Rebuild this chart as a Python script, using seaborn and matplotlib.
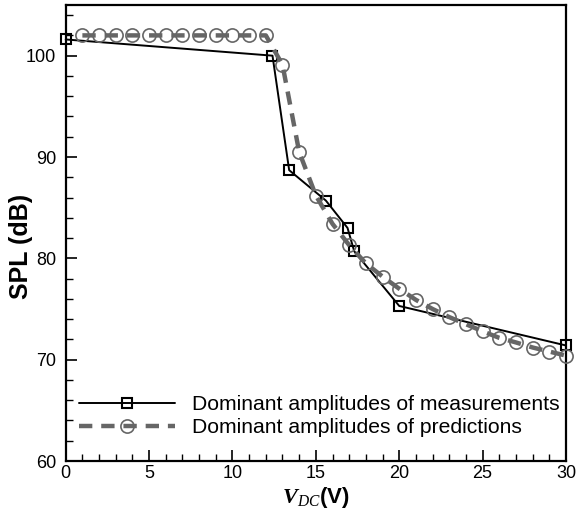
import numpy as np
import pandas as pd
import matplotlib
matplotlib.use("Agg")
import matplotlib.pyplot as plt
import seaborn as sns
from matplotlib.ticker import MultipleLocator

# ---- data ----
meas_v = [0, 12.4, 13.4, 15.6, 16.9, 17.3, 20, 30]
meas_spl = [101.6, 100.0, 88.7, 85.7, 83.0, 80.7, 75.3, 71.4]

pred_v = [1, 2, 3, 4, 5, 6, 7, 8, 9, 10, 11, 12, 13, 14, 15, 16, 17, 18, 19,
          20, 21, 22, 23, 24, 25, 26, 27, 28, 29, 30]
pred_spl = [102.0, 102.0, 102.0, 102.0, 102.0, 102.0, 102.0, 102.0, 102.0, 102.0,
            102.0, 102.0, 99.1, 90.5, 86.2, 83.4, 81.3, 79.5, 78.2,
            77.0, 75.9, 75.0, 74.2, 73.5, 72.8, 72.15, 71.7, 71.2, 70.8, 70.4]

meas_label = "Dominant amplitudes of measurements"
pred_label = "Dominant amplitudes of predictions"
x_ticks = [0, 5, 10, 15, 20, 25, 30]
y_ticks = [60, 70, 80, 90, 100]

sns.set_theme(style="white")
plt.rcParams['font.family'] = ['Liberation Sans', 'DejaVu Sans']
plt.rcParams['text.color'] = 'black'
plt.rcParams['axes.labelcolor'] = 'black'
plt.rcParams['xtick.color'] = 'black'
plt.rcParams['ytick.color'] = 'black'
plt.rcParams['mathtext.fontset'] = 'custom'
plt.rcParams['mathtext.bf'] = 'Liberation Serif:italic:bold'
plt.rcParams['mathtext.it'] = 'Liberation Serif:italic'
plt.rcParams['mathtext.rm'] = 'Liberation Serif'

W, H = 577, 509
fig = plt.figure(figsize=(W / 100, H / 100), dpi=100)
l, r, t, b = 65.7, 566, 5, 461
ax = fig.add_axes([l / W, 1 - b / H, (r - l) / W, (b - t) / H])

meas_df = pd.DataFrame({"V": meas_v, "SPL": meas_spl})
pred_df = pd.DataFrame({"V": pred_v, "SPL": pred_spl})

sns.lineplot(data=meas_df, x="V", y="SPL", ax=ax, sort=False, color="black",
             lw=1.4, marker="s", markersize=7, mfc="none", mec="black", mew=1.5,
             label=meas_label, zorder=3, clip_on=False)
sns.lineplot(data=pred_df, x="V", y="SPL", ax=ax, sort=False, color="#666666",
             lw=3.2, ls=(0, (3, 2)), marker="o", markersize=9.5, mfc="none",
             mec="#666666", mew=1.2, label=pred_label, zorder=4, clip_on=False)

ax.set_xlim(0, 30)
ax.set_ylim(60, 105)
ax.set_xticks(x_ticks)
ax.set_yticks(y_ticks)
ax.xaxis.set_minor_locator(MultipleLocator(1))
ax.yaxis.set_minor_locator(MultipleLocator(2))
ax.tick_params(axis="both", which="major", direction="in", length=8, width=1.2,
               labelsize=13, colors="black", bottom=True, left=True, top=False, right=False)
ax.tick_params(axis="x", which="major", pad=3)
ax.tick_params(axis="y", which="major", pad=7)
ax.tick_params(axis="both", which="minor", direction="in", length=5, width=1.0,
               bottom=True, left=True, top=False, right=False)
for s in ax.spines.values():
    s.set_linewidth(1.6)
    s.set_color("black")

ax.set_xlabel(r"$\mathbf{V}_{DC}$(V)", fontsize=16, fontweight="bold", labelpad=2)
ax.set_ylabel("SPL (dB)", fontsize=18, fontweight="bold")
ax.yaxis.set_label_coords(-0.066, 0.471)

ax.legend(loc="lower left", bbox_to_anchor=(0.0, 0.023), frameon=False, fontsize=15.2,
          handlelength=4.55, handletextpad=0.8, labelspacing=0.2, borderaxespad=0.23)

fig.savefig("out.png", dpi=100)
